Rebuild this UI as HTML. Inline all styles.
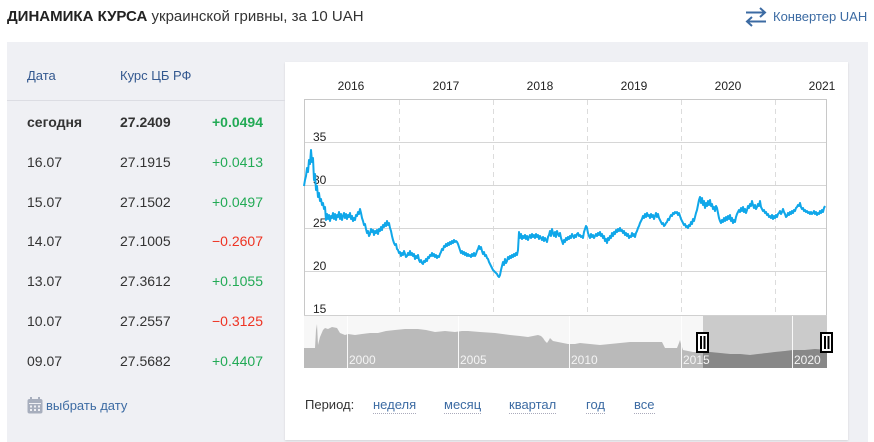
<!DOCTYPE html>
<html><head><meta charset="utf-8"><style>
*{margin:0;padding:0;box-sizing:border-box}
body{width:874px;height:442px;background:#fff;position:relative;overflow:hidden;font-family:"Liberation Sans",sans-serif;color:#333}
.a{position:absolute;white-space:nowrap}
.title{left:7px;top:7px;font-size:15px;line-height:20px;color:#333}
.title b{font-weight:bold;color:#222}
.conv{left:773px;top:9px;font-size:13px;line-height:16px;color:#3c6ba3}
.panel{left:7px;top:42px;width:861px;height:400px;background:#eff0f4}
.card{left:285px;top:62px;width:563px;height:378px;background:#fff;box-shadow:0 1px 2px rgba(0,0,0,0.12)}
.hd{font-size:13px;color:#33588f;top:68px;line-height:16px}
.div{left:7px;top:100px;width:278px;height:1px;background:#dcdde3}
.r{font-size:14px;line-height:18px;color:#333}
.g{color:#22aa55}.rd{color:#ee3322}
.lnk{font-size:13px;line-height:16px;color:#3c6ba3;border-bottom:1px dotted #aab;top:397px}
</style></head><body>
<div class="a title"><b>ДИНАМИКА КУРСА</b> украинской гривны, за 10 UAH</div>
<svg class="a" style="left:744px;top:6px" width="24" height="22" viewBox="0 0 24 22"><path d="M2 6.5H21M16 2l5 4.5-5 4.5" fill="none" stroke="#3c6ba3" stroke-width="2"/><path d="M22 15.5H3M8 11l-5 4.5 5 4.5" fill="none" stroke="#3c6ba3" stroke-width="2"/></svg>
<div class="a conv">Конвертер UAH</div>
<div class="a panel"></div>
<div class="a card"></div>
<div class="a hd" style="left:27px">Дата</div>
<div class="a hd" style="left:120px">Курс ЦБ РФ</div>
<div class="a div"></div>
<div class="a r" style="left:27px;top:113px;font-weight:bold">сегодня</div>
<div class="a r" style="left:120px;top:113px;font-weight:bold">27.2409</div>
<div class="a r g" style="left:212px;top:113px;font-weight:bold">+0.0494</div>
<div class="a r" style="left:27px;top:153px">16.07</div><div class="a r" style="left:120px;top:153px">27.1915</div><div class="a r g" style="left:212px;top:153px">+0.0413</div>
<div class="a r" style="left:27px;top:193px">15.07</div><div class="a r" style="left:120px;top:193px">27.1502</div><div class="a r g" style="left:212px;top:193px">+0.0497</div>
<div class="a r" style="left:27px;top:232px">14.07</div><div class="a r" style="left:120px;top:232px">27.1005</div><div class="a r rd" style="left:212px;top:232px">−0.2607</div>
<div class="a r" style="left:27px;top:272px">13.07</div><div class="a r" style="left:120px;top:272px">27.3612</div><div class="a r g" style="left:212px;top:272px">+0.1055</div>
<div class="a r" style="left:27px;top:312px">10.07</div><div class="a r" style="left:120px;top:312px">27.2557</div><div class="a r rd" style="left:212px;top:312px">−0.3125</div>
<div class="a r" style="left:27px;top:352px">09.07</div><div class="a r" style="left:120px;top:352px">27.5682</div><div class="a r g" style="left:212px;top:352px">+0.4407</div>
<svg class="a" style="left:27px;top:397px" width="16" height="17" viewBox="0 0 16 17"><rect x="0.5" y="2" width="15" height="14.5" rx="2" fill="#a7aebd"/><rect x="3" y="0" width="2" height="4" fill="#a7aebd"/><rect x="11" y="0" width="2" height="4" fill="#a7aebd"/><g fill="#eff0f4"><rect x="2" y="6" width="12" height="1"/><rect x="3" y="8.5" width="2" height="2"/><rect x="7" y="8.5" width="2" height="2"/><rect x="11" y="8.5" width="2" height="2"/><rect x="3" y="12" width="2" height="2"/><rect x="7" y="12" width="2" height="2"/><rect x="11" y="12" width="2" height="2"/></g></svg>
<div class="a" style="left:46px;top:398px;font-size:13px;line-height:16px;color:#3c6ba3">выбрать дату</div>

<svg class="a" style="left:0;top:0" width="874" height="442" viewBox="0 0 874 442">
<defs><clipPath id="sel"><rect x="703" y="315" width="124" height="54"/></clipPath></defs>
<g font-family="Liberation Sans, sans-serif" font-size="12" fill="#222" text-anchor="middle">
<text x="351" y="90">2016</text><text x="446" y="90">2017</text><text x="540" y="90">2018</text><text x="634" y="90">2019</text><text x="728" y="90">2020</text><text x="822" y="90">2021</text>
</g>
<g stroke="#dcdcdc" stroke-width="1" stroke-dasharray="5,4">
<line x1="399.5" y1="100" x2="399.5" y2="314"/><line x1="493.5" y1="100" x2="493.5" y2="314"/><line x1="587.5" y1="100" x2="587.5" y2="314"/><line x1="681.5" y1="100" x2="681.5" y2="314"/><line x1="775.5" y1="100" x2="775.5" y2="314"/>
</g>
<g stroke="#d6d6d6" stroke-width="1">
<line x1="304" y1="142.5" x2="826" y2="142.5"/><line x1="304" y1="185.5" x2="826" y2="185.5"/><line x1="304" y1="228.5" x2="826" y2="228.5"/><line x1="304" y1="271.5" x2="826" y2="271.5"/>
</g>
<path d="M304.5 315V99.5H826.5V315" fill="none" stroke="#c8c8c8" stroke-width="1"/>
<g font-family="Liberation Sans, sans-serif" font-size="12" fill="#222">
<text x="313" y="141">35</text><text x="313" y="184">30</text><text x="313" y="227">25</text><text x="313" y="270">20</text><text x="313" y="313">15</text>
</g>
<polyline fill="none" stroke="#10a7e9" stroke-width="2" stroke-linejoin="round" points="304,186 305,180 306,176 307,168 308,172 309,160 310,164 311,150 312,162 313,158 314,180 315,174 316,190 317,186 318,197 319,193 320,201 321,199 322,205 323,203 324,209 325,207 326,220 327,214 328,219 329,215 330,221 331,216 332,218 333,213 334,219 335,214 336,220 337,215 338,217 339,212 340,219 341,214 342,220 343,216 344,213 345,218 346,214 347,219 348,215 349,217 350,213 351,219 352,216 353,221 354,218 355,220 356,215 357,216 358,212 359,214 360,209 361,213 362,218 363,221 364,225 365,224 366,229 367,233 368,231 369,236 370,234 371,229 372,232 373,230 374,235 375,231 376,233 377,230 378,234 379,229 380,231 381,227 382,230 383,225 384,227 385,223 386,226 387,221 388,225 389,223 390,228 391,231 392,236 393,240 394,243 395,245 396,244 397,249 398,250 399,253 400,252 401,256 402,253 403,255 404,251 405,254 406,257 407,256 408,253 409,255 410,251 411,255 412,253 413,256 414,254 415,259 416,256 417,258 418,255 419,260 420,262 421,260 422,263 423,264 424,261 425,262 426,259 427,261 428,257 429,258 430,255 431,256 432,253 433,256 434,254 435,257 436,255 437,258 438,256 439,257 440,254 441,252 442,249 443,250 444,246 445,247 446,244 447,246 448,243 449,245 450,242 451,244 452,241 453,243 454,240 455,242 456,241 457,242 458,244 459,247 460,250 461,253 462,251 463,254 464,252 465,255 466,253 467,256 468,254 469,256 470,255 471,257 472,254 473,256 474,253 475,256 476,254 477,251 478,249 479,246 480,249 481,247 482,251 483,254 484,252 485,256 486,255 487,258 488,259 489,262 490,264 491,266 492,268 493,270 494,271 495,272 496,273 497,274 498,276 499,277 500,275 501,270 502,266 503,262 504,265 505,259 506,263 507,261 508,257 509,259 510,256 511,258 512,255 513,257 514,254 515,256 516,253 517,255 518,250 519,232 520,238 521,234 522,239 523,236 524,238 525,235 526,239 527,236 528,240 529,237 530,235 531,238 532,234 533,237 534,235 535,238 536,234 537,237 538,235 539,239 540,236 541,238 542,240 543,237 544,241 545,238 546,240 547,242 548,237 549,235 550,231 551,236 552,229 553,233 554,236 555,232 556,237 557,231 558,234 559,236 560,233 561,238 562,241 563,244 564,240 565,242 566,238 567,240 568,237 569,239 570,236 571,238 572,234 573,236 574,238 575,235 576,237 577,234 578,233 579,236 580,235 581,237 582,236 583,238 584,232 585,229 586,226 587,228 588,233 589,236 590,238 591,234 592,237 593,235 594,238 595,236 596,234 597,236 598,233 599,235 600,232 601,236 602,234 603,238 604,236 605,241 606,239 607,243 608,238 609,240 610,236 611,238 612,233 613,236 614,232 615,234 616,230 617,232 618,229 619,231 620,228 621,231 622,230 623,233 624,231 625,235 626,233 627,236 628,234 629,238 630,236 631,237 632,233 633,236 634,234 635,237 636,233 637,231 638,228 639,226 640,223 641,221 642,219 643,216 644,218 645,214 646,217 647,213 648,216 649,215 650,218 651,214 652,217 653,215 654,219 655,216 656,213 657,217 658,214 659,218 660,220 661,222 662,224 663,223 664,226 665,225 666,223 667,222 668,219 669,220 670,217 671,215 672,216 673,213 674,214 675,212 676,213 677,212 678,215 679,213 680,216 681,219 682,221 683,223 684,225 685,224 686,227 687,226 688,228 689,225 690,226 691,222 692,224 693,219 694,221 695,217 696,213 697,210 698,205 699,200 700,197 701,203 702,198 703,205 704,201 705,208 706,203 707,206 708,201 709,205 710,200 711,206 712,204 713,209 714,207 715,211 716,206 717,208 718,213 719,218 720,221 721,223 722,220 723,222 724,218 725,221 726,217 727,220 728,216 729,219 730,215 731,221 732,218 733,223 734,220 735,222 736,217 737,214 738,212 739,210 740,212 741,208 742,211 743,207 744,212 745,209 746,213 747,210 748,206 749,208 750,204 751,206 752,201 753,205 754,208 755,205 756,209 757,207 758,204 759,206 760,201 761,207 762,209 763,211 764,210 765,213 766,212 767,215 768,214 769,217 770,216 771,218 772,215 773,219 774,216 775,218 776,215 777,217 778,214 779,213 780,211 781,214 782,212 783,209 784,212 785,214 786,217 787,216 788,213 789,215 790,212 791,214 792,211 793,213 794,210 795,211 796,208 797,207 798,205 799,206 800,203 801,207 802,209 803,208 804,211 805,210 806,212 807,211 808,213 809,212 810,214 811,212 812,214 813,213 814,211 815,214 816,212 817,215 818,213 819,214 820,211 821,213 822,210 823,212 824,208 825,206"/>
<rect x="304" y="315" width="523" height="53" fill="#f7f7f7"/>
<rect x="703" y="315" width="124" height="53" fill="#cbcbcb"/>
<polygon fill="#bababa" points="304,368 304,348 315,348 316,330 317,324 318,345 320,337 323,330 325,328 328,329 332,327 337,328 340,333 345,335 348,334 355,335 362,334 370,333 378,333 386,331 395,330 405,329 418,329 426,330 435,332 445,331 455,332 462,331 468,331 480,332 495,333 510,335 520,336 528,337 533,336 538,335 541,336 543,338 545,341 547,343 549,340 550,338 553,341 558,342 563,343 568,344 575,344 580,343 590,344 600,345 610,344 620,343 630,342 640,342 650,342 662,342 664,346 665,348 670,348 677,348 679,343 680,340 681,344 683,350 688,351 693,352 703,352 710,352 720,353 730,354 740,354 750,355 758,354 767,353 775,352 785,351 793,350 805,350 815,349 827,350 827,368"/>
<polygon clip-path="url(#sel)" fill="#888888" points="304,368 304,348 315,348 316,330 317,324 318,345 320,337 323,330 325,328 328,329 332,327 337,328 340,333 345,335 348,334 355,335 362,334 370,333 378,333 386,331 395,330 405,329 418,329 426,330 435,332 445,331 455,332 462,331 468,331 480,332 495,333 510,335 520,336 528,337 533,336 538,335 541,336 543,338 545,341 547,343 549,340 550,338 553,341 558,342 563,343 568,344 575,344 580,343 590,344 600,345 610,344 620,343 630,342 640,342 650,342 662,342 664,346 665,348 670,348 677,348 679,343 680,340 681,344 683,350 688,351 693,352 703,352 710,352 720,353 730,354 740,354 750,355 758,354 767,353 775,352 785,351 793,350 805,350 815,349 827,350 827,368"/>
<g stroke="#ffffff" stroke-width="1" opacity="0.9">
<line x1="347.5" y1="315" x2="347.5" y2="368"/><line x1="458.5" y1="315" x2="458.5" y2="368"/><line x1="569.5" y1="315" x2="569.5" y2="368"/><line x1="681.5" y1="315" x2="681.5" y2="368"/><line x1="792.5" y1="315" x2="792.5" y2="368"/>
</g>
<line x1="304" y1="315.5" x2="827" y2="315.5" stroke="#d0d0d0" stroke-width="1"/>
<g font-family="Liberation Sans, sans-serif" font-size="12" fill="#f4f4f4">
<text x="349" y="364">2000</text><text x="460" y="364">2005</text><text x="571" y="364">2010</text><text x="683" y="364">2015</text><text x="794" y="364">2020</text>
</g>
<g fill="#fff" stroke="#000" stroke-width="2">
<rect x="697" y="333" width="11" height="19"/>
<rect x="821" y="333" width="11" height="19"/>
</g>
<g stroke="#000" stroke-width="2">
<line x1="701" y1="336" x2="701" y2="349"/><line x1="704.5" y1="336" x2="704.5" y2="349"/>
<line x1="825" y1="336" x2="825" y2="349"/><line x1="828.5" y1="336" x2="828.5" y2="349"/>
</g>
</svg>

<div class="a" style="left:305px;top:397px;font-size:13px;line-height:16px;color:#333">Период:</div>
<div class="a lnk" style="left:373px">неделя</div>
<div class="a lnk" style="left:444px">месяц</div>
<div class="a lnk" style="left:509px">квартал</div>
<div class="a lnk" style="left:586px">год</div>
<div class="a lnk" style="left:634px">все</div>
</body></html>
